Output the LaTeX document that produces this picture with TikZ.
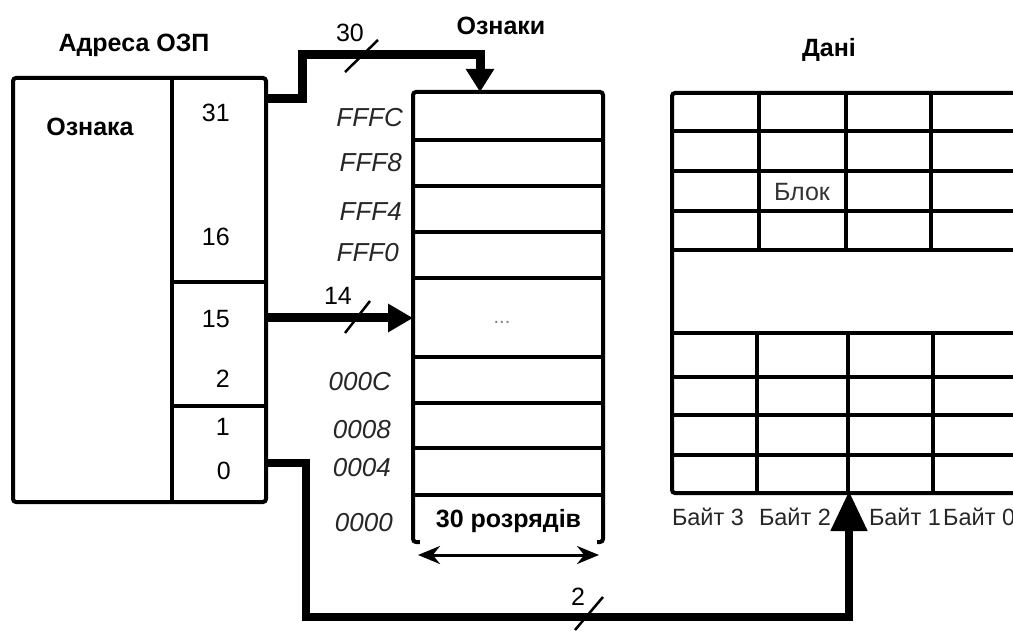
\documentclass[tikz,border=0pt]{standalone}
\usepackage{fontspec}
\setmainfont{Liberation Sans}
\usetikzlibrary{arrows.meta}
\begin{document}
\begin{tikzpicture}[x=1pt,y=-1pt,
  box/.style={draw, line width=4pt, rounded corners=3pt, inner sep=0pt},
  gridline/.style={line width=4pt},
  bus/.style={line width=9pt, line join=miter},
  slash/.style={line width=2.5pt},
  lbl/.style={font=\fontsize{25}{27}\selectfont, inner sep=0pt},
  blbl/.style={font=\bfseries\fontsize{25}{27}\selectfont, inner sep=0pt},
  hex/.style={font=\itshape\fontsize{26}{28}\selectfont, inner sep=0pt, anchor=east, text=black!85},
  num/.style={font=\fontsize{25}{27}\selectfont, inner sep=0pt, anchor=east},
  bytel/.style={font=\fontsize{23.5}{25}\selectfont, inner sep=0pt, text=black!85},
]
\useasboundingbox (0,0) rectangle (1013,631);
\begin{scope}
\clip (0,0) rectangle (1013,631);
% address register
\node[box, minimum width=253pt, minimum height=424pt] (addr) at (139.5,290) {};
\draw[gridline] (172,78) -- (172,502);
\draw[gridline] (172,282) -- (266,282);
\draw[gridline] (172,406) -- (266,406);
\node[blbl] (addrT) at (134,45) {Адреса ОЗП};
\node[blbl] (tagF) at (90,127) {Ознака};
\node[num] (n31) at (230,113) {31};
\node[num] (n16) at (230,237) {16};
\node[num] (n15) at (230,319) {15};
\node[num] (n2) at (230,379) {2};
\node[num] (n1) at (230,427) {1};
\node[num] (n0) at (231,471) {0};
\coordinate (p31) at (264,99);
\coordinate (p15) at (264,318);
\coordinate (p1) at (264,463);
% tags table
\node[box, minimum width=190pt, minimum height=450pt] (tags) at (508,317) {};
\foreach \yy in {140,186,232,278,357,403,448,495} \draw[gridline] (413,\yy) -- (603,\yy);
\node[blbl] (tagsT) at (501,26) {Ознаки};
\node[font=\fontsize{20}{20}\selectfont, text=black!50, inner sep=0pt] (dots) at (502,322) {...};
\node[hex] (h1) at (403,118) {FFFC};
\node[hex] (h2) at (402,163) {FFF8};
\node[hex] (h3) at (402,212) {FFF4};
\node[hex] (h4) at (399,253) {FFF0};
\node[hex] (h5) at (391,382) {000C};
\node[hex] (h6) at (391,430) {0008};
\node[hex] (h7) at (391,468) {0004};
\node[hex] (h8) at (393,523) {0000};
\coordinate (tagtop) at (480,92);
\coordinate (tagmid) at (413,318);
\node[blbl, fill=white, minimum width=177pt, minimum height=47pt] (bits) at (508.5,521.5) {30 розрядів};
\coordinate (dl) at (418,555);
\coordinate (dr) at (599,555);
\draw[line width=3pt, {Stealth[length=22pt,width=18pt]}-{Stealth[length=22pt,width=18pt]}] (dl) -- (dr);
% data array
\node[blbl] (dataT) at (829,50) {Дані};
\draw[gridline, rounded corners=3pt] (1030,93) -- (672,93) -- (672,493) -- (1030,493);
\foreach \yy in {131,171,211,250,333,377,415,455} \draw[gridline] (672,\yy) -- (1030,\yy);
\foreach \xx in {759,846,931} \draw[gridline] (\xx,93) -- (\xx,250);
\foreach \xx in {757,848,933} \draw[gridline] (\xx,333) -- (\xx,493);
\node[lbl, text=black!80] (blk) at (802,192) {Блок};
\node[bytel] (b3) at (708,517) {Байт 3};
\node[bytel] (b2) at (795,517) {Байт 2};
\node[bytel] (b1) at (905,517) {Байт 1};
\node[bytel, anchor=west] (b0) at (943,517) {Байт 0};
\coordinate (byte) at (849,491);
% buses
\draw[bus, -{Triangle[length=23pt,width=27pt]}] (p31) -- (302,99) -- (302,55) -- (480,55) -- (tagtop);
\draw[bus, -{Triangle[length=25pt,width=27pt]}] (p15) -- (tagmid);
\draw[bus, line width=8pt, -{Triangle[length=40pt,width=35pt]}] (p1) -- (306,463) -- (306,617) -- (849,617) -- (byte);
% width marks
\node[lbl] (w30) at (350,33) {30};
\draw[slash] (345,72) -- (378,40);
\node[lbl] (w14) at (338,296) {14};
\draw[slash] (345,333) -- (370,301);
\node[lbl] (w2) at (578,597) {2};
\draw[slash] (575,630) -- (603,597);
\end{scope}
\end{tikzpicture}
\end{document}
